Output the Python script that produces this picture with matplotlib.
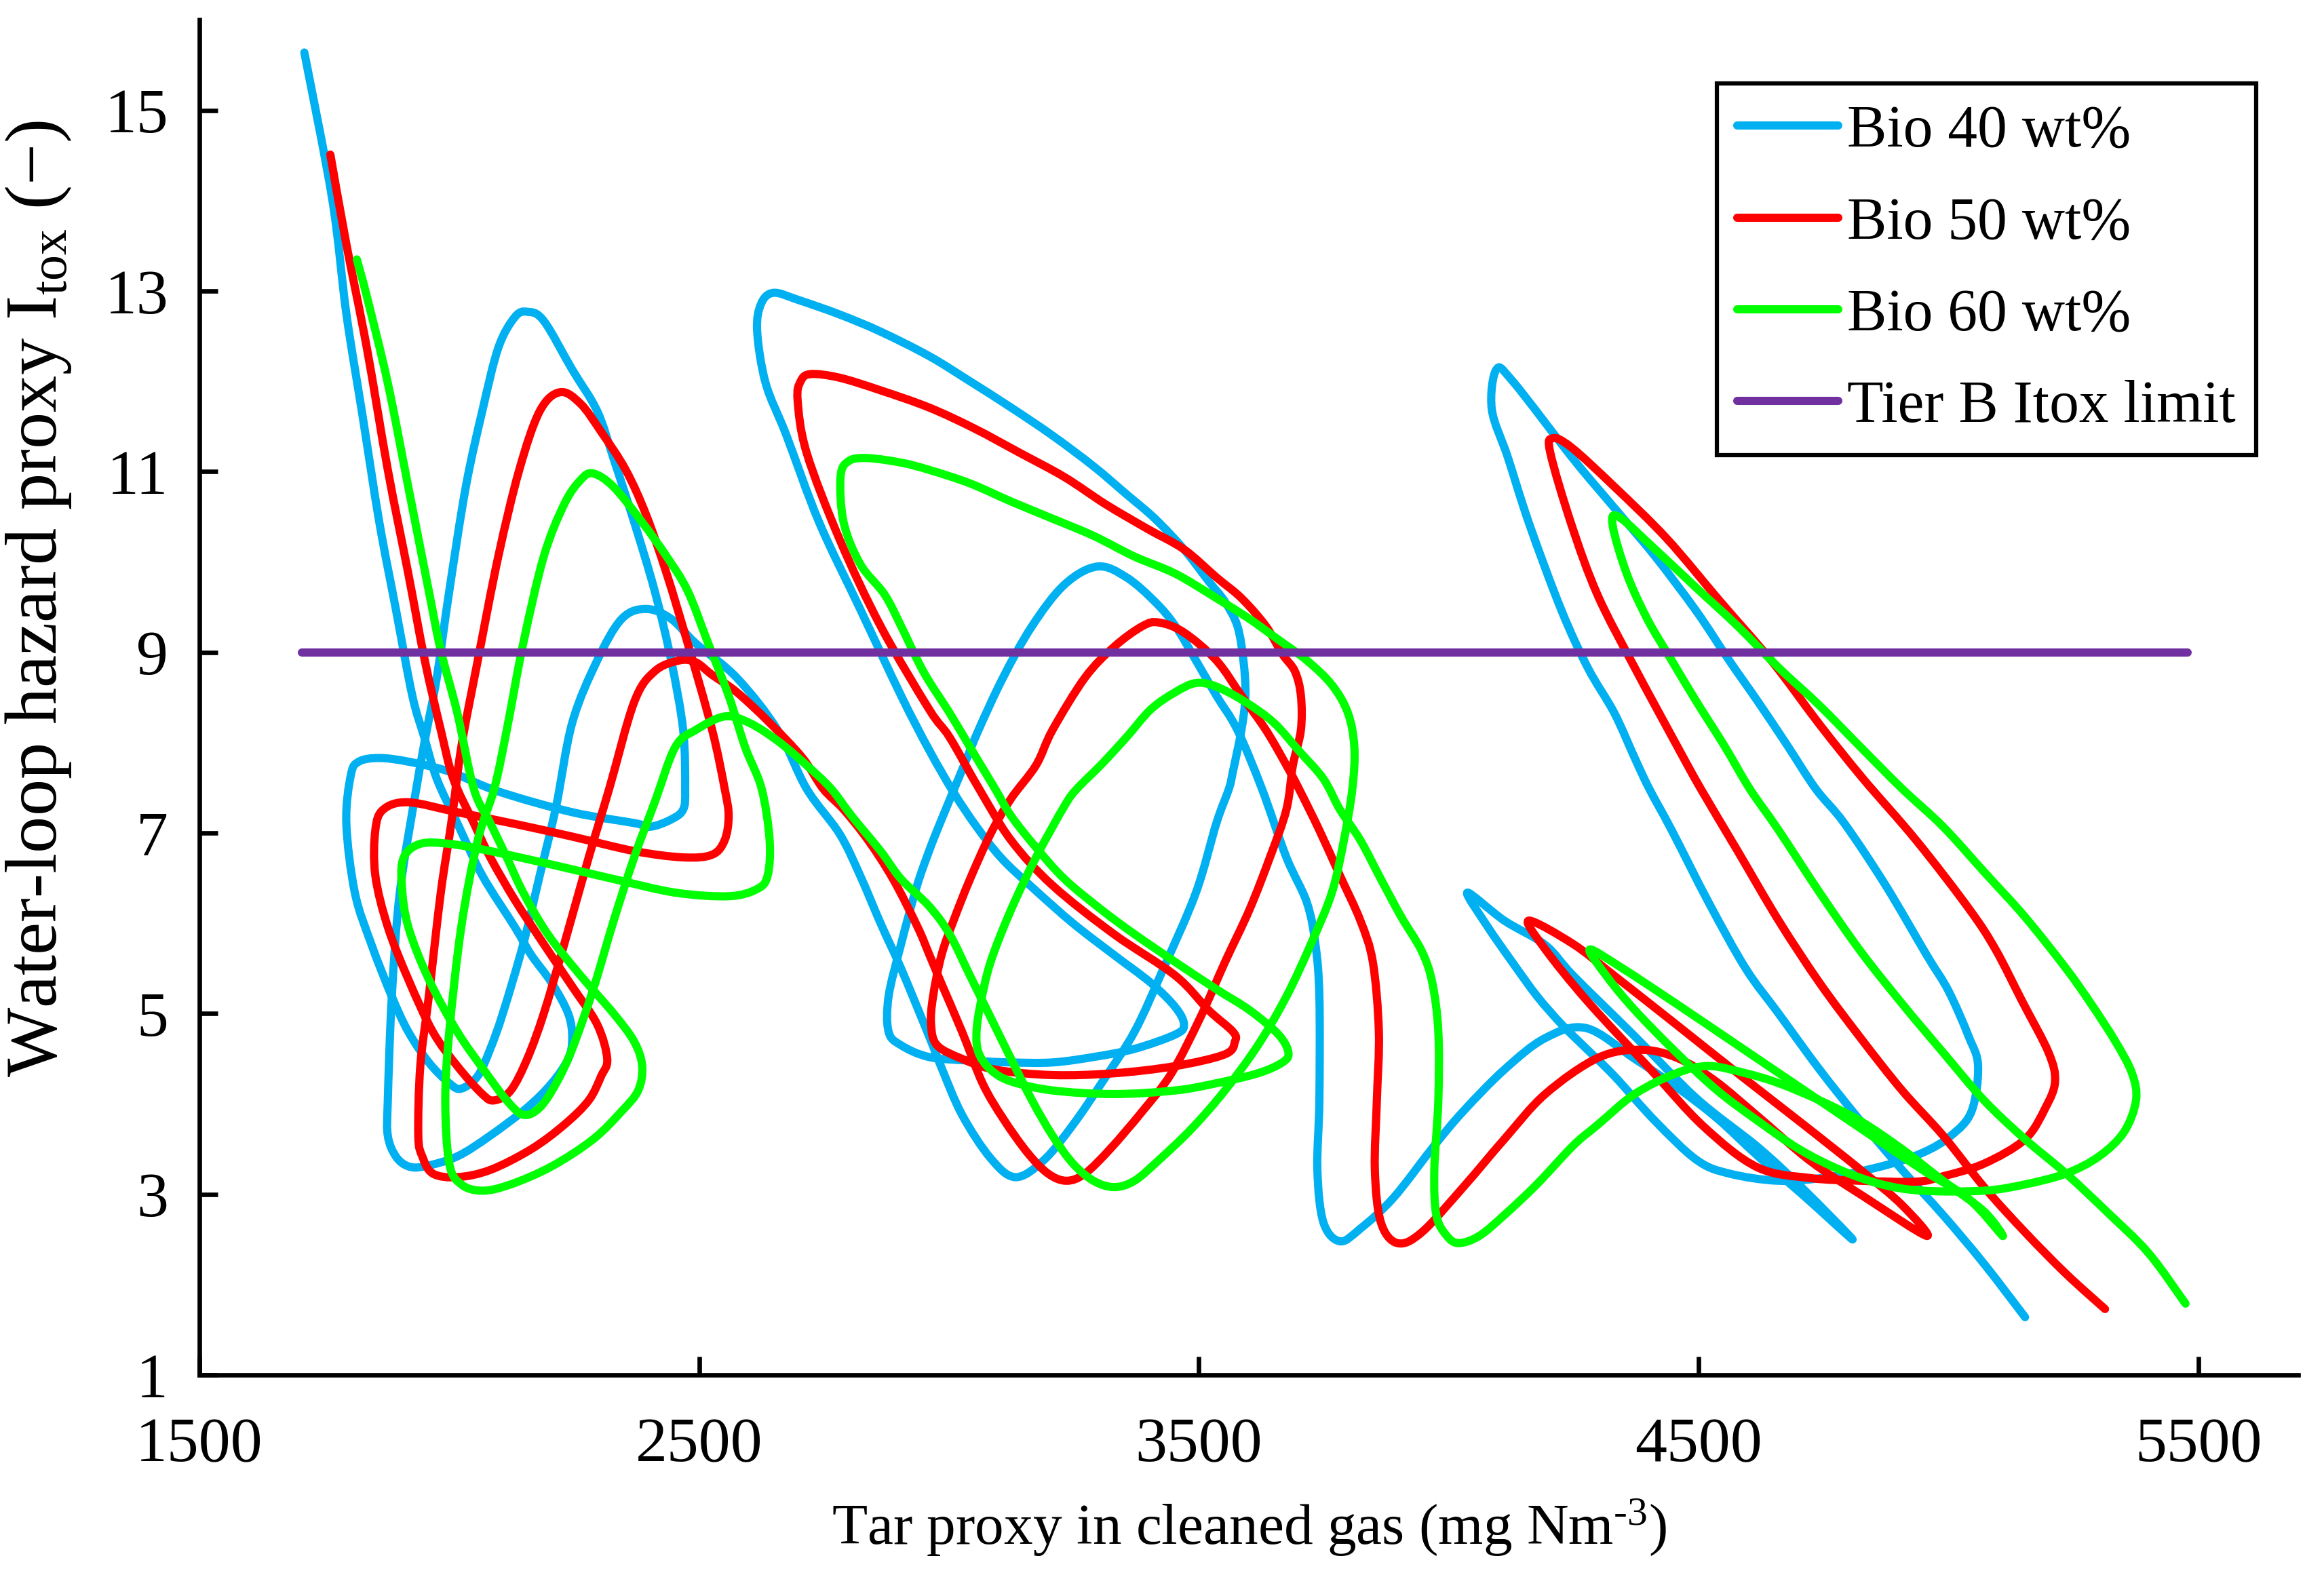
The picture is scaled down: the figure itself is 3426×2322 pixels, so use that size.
import numpy as np
import matplotlib
matplotlib.use("Agg")
import matplotlib.pyplot as plt
from matplotlib.path import Path
from matplotlib.patches import PathPatch
from matplotlib.lines import Line2D

plt.rcParams['font.family'] = 'Liberation Serif'
plt.rcParams['mathtext.fontset'] = 'custom'
plt.rcParams['mathtext.rm'] = 'Liberation Serif'
plt.rcParams['mathtext.it'] = 'Liberation Serif:italic'

# ---- data (tar proxy, Itox) ----
bio40_x = [1710, 1766, 1794, 1827, 1860, 1893, 1926, 1950, 1975, 2016, 2066, 2131, 2164, 2205, 2238,
           2246, 2238, 2205, 2156, 2082, 2016, 1951, 1918, 1893, 1877, 1877, 1885, 1901, 1934, 1955,
           1975, 2000, 2033, 2066, 2098, 2131, 2156, 2189, 2246, 2296, 2329, 2370, 2411, 2444, 2468,
           2472, 2468, 2444, 2403, 2370, 2246, 2098, 2000, 1918, 1860, 1819, 1803, 1794, 1811, 1844,
           1885, 1918, 1959, 2000, 2024, 2057, 2082, 2107, 2148, 2181, 2214, 2246, 2296, 2345, 2394,
           2444, 2493, 2575, 2657, 2715, 2781, 2822, 2863, 2904, 2960, 2985, 3026, 3083, 3133, 3190,
           3248, 3305, 3371, 3429, 3494, 3535, 3560, 3568, 3585, 3593, 3589, 3577, 3552, 3519, 3470,
           3412, 3355, 3289, 3207, 3124, 3042, 2960, 2863, 2781, 2699, 2649, 2624, 2616, 2633, 2674,
           2740, 2822, 2904, 2960, 3009, 3055, 3105, 3166, 3248, 3330, 3404, 3453, 3470, 3453, 3371,
           3289, 3207, 3124, 3042, 2960, 2904, 2879, 2879, 2904, 2935, 2960, 2985, 3030, 3059, 3108,
           3166, 3231, 3297, 3355, 3412, 3453, 3494, 3535, 3577, 3626, 3675, 3716, 3733, 3741, 3741,
           3737, 3749, 3782, 3823, 3889, 3971, 4029, 4111, 4193, 4275, 4372, 4455, 4537, 4619, 4709,
           4808, 4709, 4619, 4496, 4372, 4249, 4193, 4111, 4037, 4078, 4127, 4177, 4226, 4270, 4331,
           4413, 4496, 4561, 4660, 4759, 4866, 4948, 5005, 5046, 5059, 5040, 5000, 4956, 4874, 4791,
           4734, 4676, 4619, 4561, 4496, 4413, 4331, 4249, 4128, 4095, 4086, 4118, 4161, 4225, 4278,
           4331, 4372, 4401, 4446, 4520, 4594, 4660, 4742, 4824, 4907, 4989, 5071, 5153]
bio40_y = [15.64, 14.01, 12.75, 11.60, 10.44, 9.48, 8.52, 8.06, 7.60, 7.11, 6.53, 5.96, 5.65, 5.34, 5.00,
           4.73, 4.50, 4.23, 3.96, 3.65, 3.42, 3.31, 3.31, 3.42, 3.65, 4.04, 5.19, 6.34, 7.49, 8.14,
           8.72, 9.68, 10.83, 11.67, 12.37, 12.71, 12.77, 12.67, 12.13, 11.67, 11.14, 10.44, 9.68, 8.91, 8.14,
           7.49, 7.26, 7.15, 7.07, 7.11, 7.23, 7.46, 7.68, 7.79, 7.83, 7.79, 7.64, 7.11, 6.34, 5.77,
           5.19, 4.80, 4.46, 4.23, 4.17, 4.31, 4.61, 5.00, 5.77, 6.53, 7.30, 8.22, 8.91, 9.37, 9.48,
           9.37, 9.10, 8.72, 8.14, 7.49, 6.99, 6.53, 6.00, 5.50, 4.75, 4.40, 3.88, 3.40, 3.19, 3.38,
           3.77, 4.23, 4.80, 5.50, 6.34, 7.11, 7.49, 7.68, 8.14, 8.52, 8.91, 9.29, 9.56, 9.79, 10.14,
           10.48, 10.75, 11.06, 11.40, 11.71, 12.00, 12.28, 12.55, 12.74, 12.90, 12.98, 12.86, 12.56, 11.98, 11.41,
           10.44, 9.48, 8.52, 7.92, 7.45, 7.07, 6.72, 6.40, 6.00, 5.65, 5.34, 5.07, 4.88, 4.77, 4.61,
           4.52, 4.46, 4.46, 4.48, 4.52, 4.65, 4.80, 5.19, 5.77, 6.40, 6.80, 7.15, 7.75, 8.14, 8.72,
           9.29, 9.75, 9.95, 9.83, 9.56, 9.29, 8.91, 8.52, 8.14, 7.49, 6.73, 6.23, 5.77, 5.19, 4.04,
           3.27, 2.69, 2.48, 2.62, 2.96, 3.54, 3.92, 4.38, 4.73, 4.84, 4.50, 4.19, 3.84, 3.42, 2.99,
           2.50, 3.06, 3.52, 4.06, 4.75, 5.42, 5.76, 6.03, 6.34, 5.96, 5.57, 5.19, 4.88, 4.64, 4.31,
           3.81, 3.38, 3.23, 3.15, 3.19, 3.31, 3.46, 3.65, 3.92, 4.42, 4.75, 5.25, 5.65, 6.42, 7.11,
           7.49, 7.98, 8.45, 8.91, 9.45, 10.06, 10.60, 11.14, 12.00, 12.13, 11.69, 11.16, 10.42, 9.47, 8.83,
           8.33, 7.83, 7.49, 7.03, 6.23, 5.50, 5.00, 4.38, 3.81, 3.27, 2.77, 2.23, 1.64]

bio50_x = [1762, 1794, 1835, 1877, 1918, 1951, 1983, 2008, 2049, 2082, 2131, 2189, 2246, 2296, 2316,
           2304, 2279, 2230, 2164, 2082, 2016, 1967, 1946, 1938, 1942, 1959, 1983, 2004, 2024, 2057,
           2098, 2140, 2181, 2222, 2263, 2304, 2353, 2394, 2435, 2477, 2526, 2551, 2559, 2551, 2526,
           2468, 2370, 2246, 2123, 2016, 1918, 1868, 1852, 1852, 1877, 1918, 1967, 2016, 2066, 2090,
           2123, 2156, 2189, 2230, 2279, 2320, 2370, 2411, 2460, 2493, 2526, 2575, 2641, 2707, 2748,
           2789, 2838, 2888, 2937, 2960, 2985, 3026, 3067, 3108, 3157, 3198, 3235, 3272, 3322, 3387,
           3445, 3503, 3552, 3601, 3642, 3675, 3688, 3704, 3704, 3692, 3667, 3634, 3585, 3535, 3470,
           3396, 3313, 3231, 3141, 3050, 2960, 2863, 2781, 2723, 2703, 2697, 2715, 2781, 2863, 2960,
           3001, 3060, 3124, 3207, 3330, 3453, 3519, 3568, 3572, 3552, 3453, 3330, 3207, 3092, 3026,
           2976, 2964, 2968, 2985, 3009, 3042, 3083, 3124, 3174, 3207, 3272, 3330, 3387, 3420, 3470,
           3535, 3585, 3634, 3675, 3700, 3741, 3782, 3823, 3848, 3860, 3856, 3852, 3864, 3897, 3946,
           4029, 4111, 4193, 4298, 4383, 4457, 4532, 4617, 4723, 4829, 4956, 4907, 4824, 4701, 4578,
           4455, 4331, 4249, 4160, 4192, 4277, 4404, 4510, 4617, 4723, 4824, 4935, 4989, 5071, 5153,
           5194, 5213, 5200, 5147, 5094, 5041, 4935, 4829, 4742, 4648, 4542, 4436, 4330, 4245, 4208,
           4203, 4245, 4298, 4372, 4458, 4504, 4578, 4660, 4742, 4824, 4907, 4989, 5071, 5153, 5235,
           5313]
bio50_y = [14.51, 13.52, 12.37, 11.02, 9.87, 8.91, 8.14, 7.60, 7.11, 6.73, 6.26, 5.77, 5.30, 4.88, 4.50,
           4.31, 4.04, 3.77, 3.50, 3.27, 3.19, 3.23, 3.42, 3.65, 4.42, 5.19, 6.34, 7.11, 7.95, 8.91,
           10.06, 11.02, 11.67, 11.88, 11.75, 11.44, 11.02, 10.52, 9.87, 9.10, 8.14, 7.49, 7.19, 6.92, 6.76,
           6.73, 6.80, 6.96, 7.11, 7.23, 7.34, 7.26, 7.03, 6.53, 5.96, 5.38, 4.80, 4.42, 4.11, 4.04,
           4.15, 4.50, 5.00, 5.77, 6.73, 7.49, 8.45, 8.79, 8.91, 8.89, 8.75, 8.56, 8.22, 7.83, 7.49,
           7.26, 6.92, 6.49, 5.96, 5.66, 5.33, 4.80, 4.23, 3.84, 3.46, 3.23, 3.15, 3.23, 3.50, 3.92,
           4.34, 4.96, 5.57, 6.15, 6.73, 7.26, 7.75, 8.14, 8.52, 8.79, 8.98, 9.29, 9.60, 9.83, 10.14,
           10.37, 10.64, 10.94, 11.21, 11.48, 11.71, 11.90, 12.04, 12.08, 12.00, 11.79, 11.21, 10.25, 9.29, 8.37,
           8.06, 7.49, 6.92, 6.42, 5.88, 5.42, 5.04, 4.80, 4.69, 4.55, 4.42, 4.34, 4.32, 4.38, 4.50,
           4.65, 4.88, 5.19, 5.65, 6.03, 6.49, 6.99, 7.38, 7.75, 8.14, 8.72, 9.06, 9.29, 9.33, 9.22,
           8.91, 8.52, 8.14, 7.75, 7.49, 7.03, 6.53, 6.03, 5.57, 4.80, 4.04, 3.27, 2.69, 2.46, 2.58,
           3.08, 3.61, 4.11, 4.51, 4.60, 4.51, 4.26, 3.87, 3.37, 2.98, 2.54, 2.88, 3.27, 3.81, 4.34,
           4.88, 5.42, 5.77, 6.03, 5.72, 5.14, 4.38, 3.75, 3.30, 3.18, 3.15, 3.14, 3.20, 3.34, 3.61,
           3.96, 4.25, 4.57, 5.14, 5.71, 6.16, 6.92, 7.60, 8.20, 8.89, 9.57, 10.26, 10.84, 11.27, 11.37,
           11.21, 10.42, 9.63, 8.83, 7.95, 7.49, 6.80, 6.03, 5.34, 4.73, 4.15, 3.65, 3.08, 2.58, 2.12,
           1.73]

bio60_x = [1815, 1835, 1877, 1918, 1959, 1983, 2016, 2049, 2082, 2115, 2148, 2197, 2263, 2329, 2370,
           2386, 2378, 2345, 2288, 2205, 2123, 2066, 2024, 2000, 1992, 2000, 2024, 2057, 2090, 2115,
           2148, 2189, 2230, 2263, 2288, 2329, 2386, 2435, 2477, 2518, 2559, 2592, 2625, 2641, 2637,
           2616, 2559, 2452, 2329, 2205, 2082, 2000, 1942, 1909, 1905, 1918, 1959, 2016, 2074, 2115,
           2148, 2181, 2214, 2246, 2288, 2329, 2370, 2411, 2452, 2493, 2551, 2600, 2657, 2715, 2764,
           2805, 2863, 2904, 2960, 3001, 3042, 3083, 3124, 3166, 3207, 3248, 3289, 3330, 3371, 3420,
           3486, 3552, 3618, 3675, 3724, 3766, 3790, 3807, 3811, 3798, 3766, 3716, 3659, 3601, 3535,
           3453, 3371, 3289, 3207, 3124, 3042, 2960, 2904, 2838, 2800, 2783, 2789, 2822, 2871, 2904,
           2937, 2960, 3001, 3042, 3092, 3124, 3174, 3231, 3305, 3371, 3453, 3535, 3601, 3659, 3679,
           3667, 3618, 3535, 3453, 3330, 3207, 3124, 3083, 3059, 3055, 3063, 3083, 3124, 3174, 3231,
           3256, 3305, 3355, 3404, 3453, 3494, 3535, 3593, 3650, 3700, 3749, 3782, 3823, 3864, 3905,
           3946, 3967, 3979, 3979, 3971, 3975, 3996, 4020, 4061, 4111, 4176, 4249, 4298, 4372, 4455,
           4520, 4594, 4660, 4742, 4824, 4907, 4989, 5071, 5108, 5040, 4948, 4824, 4701, 4578, 4455,
           4348, 4282, 4315, 4372, 4455, 4537, 4619, 4701, 4783, 4866, 4948, 5071, 5153, 5235, 5301,
           5351, 5375, 5367, 5334, 5285, 5235, 5153, 5071, 4989, 4907, 4824, 4742, 4660, 4578, 4496,
           4413, 4340, 4328, 4356, 4397, 4446, 4496, 4553, 4602, 4660, 4742, 4824, 4907, 4989, 5071,
           5153, 5235, 5318, 5400, 5474]
bio60_y = [13.35, 12.94, 11.98, 10.83, 9.68, 9.02, 8.33, 7.49, 7.11, 6.73, 6.34, 5.88, 5.42, 5.00, 4.69,
           4.42, 4.15, 3.92, 3.61, 3.31, 3.11, 3.04, 3.11, 3.34, 4.04, 4.80, 5.96, 6.92, 7.49, 8.14,
           9.10, 10.06, 10.64, 10.91, 10.98, 10.83, 10.44, 10.06, 9.68, 9.10, 8.52, 7.95, 7.49, 6.92, 6.53,
           6.38, 6.30, 6.34, 6.49, 6.65, 6.80, 6.88, 6.88, 6.73, 6.42, 5.96, 5.38, 4.80, 4.34, 4.04,
           3.88, 3.96, 4.23, 4.61, 5.27, 6.03, 6.73, 7.34, 7.95, 8.14, 8.29, 8.22, 8.02, 7.75, 7.49,
           7.19, 6.80, 6.49, 6.19, 5.88, 5.42, 4.96, 4.50, 4.04, 3.65, 3.34, 3.15, 3.08, 3.15, 3.38,
           3.73, 4.15, 4.65, 5.19, 5.77, 6.34, 6.92, 7.49, 7.95, 8.33, 8.64, 8.91, 9.14, 9.37, 9.60,
           9.87, 10.06, 10.29, 10.48, 10.67, 10.87, 11.02, 11.10, 11.15, 11.12, 10.95, 10.44, 9.98, 9.64, 9.29,
           8.91, 8.68, 8.33, 7.95, 7.49, 7.19, 6.84, 6.49, 6.15, 5.88, 5.57, 5.27, 5.04, 4.77, 4.57,
           4.46, 4.34, 4.23, 4.15, 4.11, 4.15, 4.25, 4.38, 4.57, 4.80, 5.11, 5.57, 6.15, 6.73, 7.30,
           7.49, 7.76, 8.06, 8.37, 8.56, 8.66, 8.62, 8.45, 8.22, 7.91, 7.60, 7.26, 6.92, 6.49, 6.07,
           5.69, 5.34, 4.80, 4.04, 3.27, 2.77, 2.54, 2.46, 2.54, 2.77, 3.11, 3.54, 3.77, 4.11, 4.34,
           4.42, 4.34, 4.23, 4.04, 3.81, 3.50, 3.15, 2.81, 2.54, 2.95, 3.27, 3.73, 4.19, 4.65, 5.11,
           5.50, 5.71, 5.42, 5.04, 4.57, 4.15, 3.81, 3.50, 3.27, 3.11, 3.04, 3.04, 3.11, 3.23, 3.42,
           3.69, 4.04, 4.34, 4.69, 5.11, 5.50, 6.07, 6.57, 7.07, 7.49, 7.95, 8.41, 8.83, 9.29, 9.71,
           10.14, 10.50, 10.40, 9.87, 9.37, 8.91, 8.45, 7.95, 7.49, 7.03, 6.34, 5.69, 5.11, 4.57, 4.04,
           3.61, 3.23, 2.80, 2.35, 1.79]

limit_x = [1705, 5478]
limit_y = [9, 9]

series_labels = ['Bio 40 wt%', 'Bio 50 wt%', 'Bio 60 wt%', 'Tier B Itox limit']
series_colors = ['#00B0F0', '#FF0000', '#00FF00', '#7030A0']


def smooth_path(xs, ys):
    # smoothed scatter line: Catmull-Rom through the points, drawn as cubic Bezier
    pts = np.column_stack([xs, ys]).astype(float)
    p = np.vstack([pts[0], pts, pts[-1]])
    verts = [tuple(pts[0])]
    codes = [Path.MOVETO]
    for i in range(1, len(p) - 2):
        p0, p1, p2, p3 = p[i - 1], p[i], p[i + 1], p[i + 2]
        c1 = p1 + (p2 - p0) / 6.0
        c2 = p2 - (p3 - p1) / 6.0
        verts += [tuple(c1), tuple(c2), tuple(p2)]
        codes += [Path.CURVE4] * 3
    return Path(verts, codes)


fig = plt.figure(figsize=(3426 / 300, 2322 / 300), dpi=300)
ax = fig.add_axes([0.0858, 0.127, 0.9032, 0.8603])

lw = 2.9
for xs, ys, col in zip([bio40_x, bio50_x, bio60_x], [bio40_y, bio50_y, bio60_y], series_colors[:3]):
    patch = PathPatch(smooth_path(xs, ys), fill=False, edgecolor=col, lw=lw,
                      capstyle='round', joinstyle='round')
    ax.add_patch(patch)

ax.plot(limit_x, limit_y, color=series_colors[3], lw=lw, solid_capstyle='round')

ax.set_xlim(1500, 5700)
ax.set_ylim(1, 16)
ax.set_xticks([1500, 2500, 3500, 4500, 5500])
ax.set_yticks([1, 3, 5, 7, 9, 11, 13, 15])

for side in ['top', 'right']:
    ax.spines[side].set_visible(False)
for side in ['left', 'bottom']:
    ax.spines[side].set_linewidth(1.6)
ax.tick_params(direction='in', length=6.5, width=1.6, labelsize=22.5)
ax.tick_params(axis='x', pad=15)
ax.tick_params(axis='y', pad=11)

ax.set_xlabel('Tar proxy in cleaned gas (mg Nm$^{\\mathrm{\u2010}3}$)', fontsize=20.5, labelpad=8)
ax.set_ylabel('Water-loop hazard proxy I$_{\\rm tox}$ (\u2212)', fontsize=26)
ax.yaxis.set_label_coords(-0.060, 0.573)

handles = [Line2D([], [], color=c, lw=lw, solid_capstyle='round') for c in series_colors]
leg = ax.legend(handles, series_labels, loc='upper right', bbox_to_anchor=(0.98, 0.953),
                borderaxespad=0, fontsize=21, fancybox=False, edgecolor='black', framealpha=1,
                handlelength=1.7, handletextpad=0.15, labelspacing=0.62, borderpad=0.35)
leg.get_frame().set_linewidth(1.5)

fig.savefig('out.png', dpi=300)
